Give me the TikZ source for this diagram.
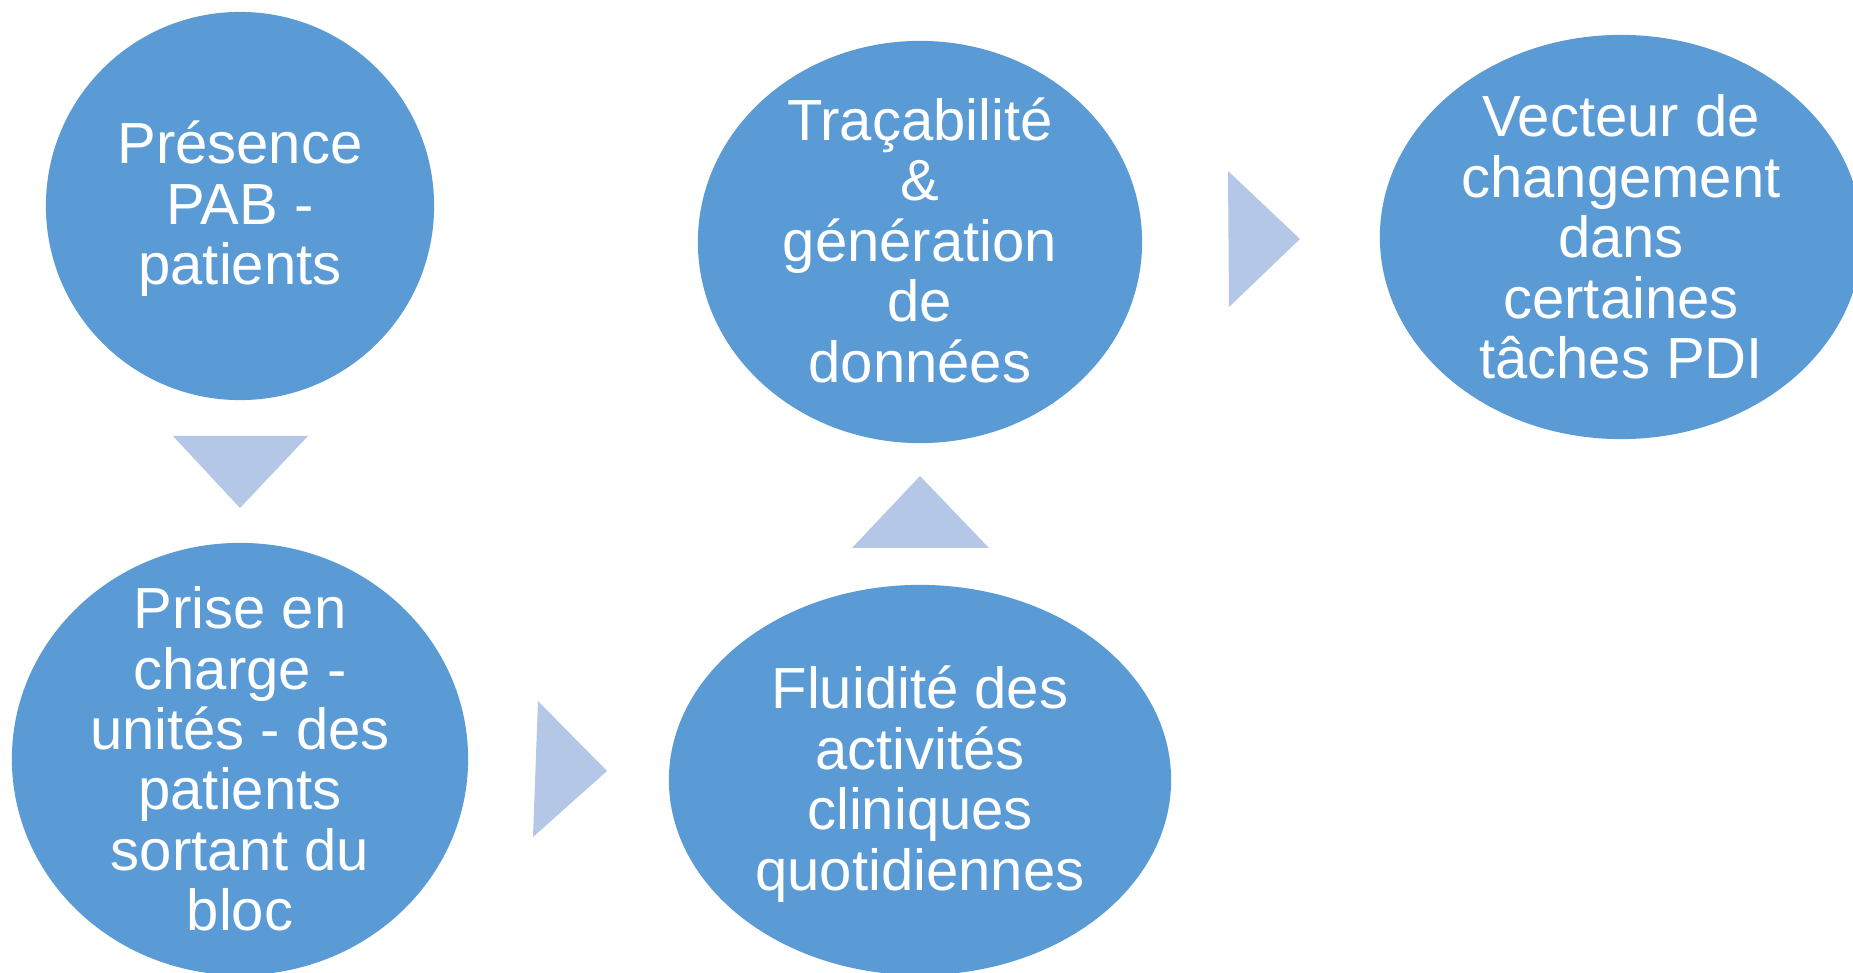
\documentclass[tikz,border=0pt]{standalone}
\usepackage{fontspec}
\setmainfont{Liberation Sans}
\usetikzlibrary{shapes.geometric}
\definecolor{bleuBulle}{HTML}{5B9BD5}
\definecolor{bleuFleche}{HTML}{B4C7E7}
\tikzset{
  bulle/.style={ellipse, fill=bleuBulle, draw=none, inner sep=0pt},
  texte/.style={text=white, align=center, inner sep=0pt,
    font=\fontsize{16.5}{17.2}\selectfont},
  fleche/.style={fill=bleuFleche}
}
\begin{document}
\begin{tikzpicture}[x=0.01cm,y=-0.01cm]
\useasboundingbox (0,0) rectangle (1853,973);
\clip (0,0) rectangle (1853,973);
% bulles
\node[bulle, minimum width=3.88cm, minimum height=3.88cm] (presence) at (240,206) {};
\node[bulle, minimum width=4.56cm, minimum height=4.32cm] (prise) at (240,759) {};
\node[bulle, minimum width=5.02cm, minimum height=3.90cm] (fluidite) at (920,780) {};
\node[bulle, minimum width=4.44cm, minimum height=4.02cm] (traca) at (920,242) {};
\node[bulle, minimum width=4.82cm, minimum height=4.04cm] (vecteur) at (1621,237) {};
% textes
\node[texte] (presence-t) at ([yshift=-0.03cm]presence) {Présence\\PAB -\\patients};
\node[texte] (prise-t) at (prise) {Prise en\\charge -\\unités - des\\patients\\sortant du\\bloc};
\node[texte] (fluidite-t) at ([yshift=-0.04cm]fluidite) {Fluidité des\\activités\\cliniques\\quotidiennes};
\node[texte] (traca-t) at ([yshift=0.02cm]traca) {Traçabilité\\\&\\génération\\de\\données};
\node[texte] (vecteur-t) at (vecteur) {Vecteur de\\changement\\dans\\certaines\\tâches PDI};
% fleches
\fill[fleche] (173,436) -- (308,436) -- (240,508) -- cycle;
\fill[fleche] (538,701) -- (607,771) -- (533,837) -- cycle;
\fill[fleche] (920,476) -- (989,548) -- (852,548) -- cycle;
\fill[fleche] (1228,171) -- (1300,239) -- (1229,307) -- cycle;
\end{tikzpicture}
\end{document}
